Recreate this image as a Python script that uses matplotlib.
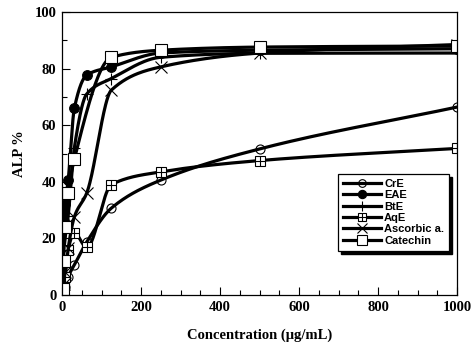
import matplotlib
matplotlib.use("Agg")
import matplotlib.pyplot as plt
import numpy as np
from matplotlib.legend_handler import HandlerTuple
from matplotlib.patches import Rectangle
from matplotlib.ticker import MultipleLocator

# concentrations (ug/mL) and ALP % for each extract
conc = [1.95, 3.9, 7.8, 15.6, 31.25, 62.5, 125, 250, 500, 1000]
cre = [0, 1, 3, 6.5, 10.6, 18.7, 30.7, 40.6, 51.6, 66.4]
eae = [16, 26, 32, 40.6, 66, 77.7, 80.6, 85.5, 86.5, 87]
bte = [7, 14, 20, 28, 52, 71, 76.5, 84, 85.4, 85.5]
aqe = [0.7, 4, 6.5, 16, 22, 16.8, 39, 43.5, 47.5, 51.8]
asc = [1, 4, 8, 16.5, 27.6, 36, 72.4, 80.6, 85.5, 88.5]
cat = [2, 12, 24, 36, 48, np.nan, 84, 86.5, 87.6, 88]

labels = ["CrE", "EAE", "BtE", "AqE", "Ascorbic a.", "Catechin"]


def smooth(x, y, n=40):
    """Monotone cubic (PCHIP) curve through the points, for the smoothed lines."""
    x = np.asarray(x, float)
    y = np.asarray(y, float)
    ok = ~np.isnan(y)
    x, y = x[ok], y[ok]
    h = np.diff(x)
    d = np.diff(y) / h
    m = np.zeros_like(y)
    for k in range(1, len(x) - 1):
        if d[k - 1] * d[k] > 0:
            w1 = 2 * h[k] + h[k - 1]
            w2 = h[k] + 2 * h[k - 1]
            m[k] = (w1 + w2) / (w1 / d[k - 1] + w2 / d[k])
    m[0] = d[0]
    m[-1] = d[-1]
    xs, ys = [], []
    t = np.linspace(0, 1, n)
    for k in range(len(x) - 1):
        h00 = 2 * t ** 3 - 3 * t ** 2 + 1
        h10 = t ** 3 - 2 * t ** 2 + t
        h01 = -2 * t ** 3 + 3 * t ** 2
        h11 = t ** 3 - t ** 2
        xs.extend(x[k] + t * h[k])
        ys.extend(h00 * y[k] + h10 * h[k] * m[k] + h01 * y[k + 1] + h11 * h[k] * m[k + 1])
    return xs, ys


fig = plt.figure(figsize=(4.72, 3.54), dpi=100)
ax = fig.add_axes([62 / 472, 1 - 295 / 354, 395 / 472, 283 / 354])

lw = 2.3
series = [
    (cre, dict(marker="o", ms=6.5, mfc="none", mew=0.8)),
    (eae, dict(marker="o", ms=7, mfc="black", mew=0.8)),
    (bte, dict(marker="+", ms=9, mew=0.8)),
    (aqe, dict(marker="s", ms=7, mfc="white", mew=0.8)),
    (asc, dict(marker="x", ms=8, mew=0.8)),
    (cat, dict(marker="s", ms=8.5, mfc="white", mew=0.8)),
]

handles = []
for (vals, style), lab in zip(series, labels):
    sx, sy = smooth(conc, vals)
    ax.plot(sx, sy, color="black", lw=lw, solid_capstyle="round")
    ax.plot(conc, vals, ls="none", color="black", mec="black", **style)
    h = ax.plot([], [], color="black", lw=lw, mec="black", **style)[0]
    if lab == "AqE":
        ax.plot(conc, vals, ls="none", marker="+", ms=7, mew=0.8, color="black")
        plus = ax.plot([], [], ls="none", marker="+", ms=7, mew=0.8, color="black")[0]
        h = (h, plus)
    handles.append(h)

ax.set_xlim(0, 1000)
ax.set_ylim(0, 100)
ax.xaxis.set_major_locator(MultipleLocator(200))
ax.xaxis.set_minor_locator(MultipleLocator(50))
ax.yaxis.set_major_locator(MultipleLocator(20))
ax.yaxis.set_minor_locator(MultipleLocator(10))
ax.tick_params(which="both", direction="in", top=False, right=False, width=0.8)
ax.tick_params(which="major", length=6, pad=4)
ax.tick_params(which="minor", length=3.5)
for s in ax.spines.values():
    s.set_linewidth(0.9)

for t in ax.get_xticklabels() + ax.get_yticklabels():
    t.set_fontfamily("Liberation Serif")
    t.set_fontweight("bold")
    t.set_fontsize(10.5)

label_font = dict(family="Liberation Serif", weight="bold", size=10.5)
ax.set_xlabel("Concentration (\u03bcg/mL)", fontdict=label_font, labelpad=11)
ax.set_ylabel("ALP %", fontdict=label_font, labelpad=6)

leg = ax.legend(handles, labels, loc="upper left", bbox_to_anchor=(0.699, 0.428),
                borderaxespad=0, fancybox=False, edgecolor="black", framealpha=1,
                prop=dict(family="Liberation Sans", weight="bold", size=8),
                markerscale=0.85, handlelength=3.4, handleheight=0.6,
                handletextpad=0.3, labelspacing=0.12, borderpad=0.45,
                handler_map={tuple: HandlerTuple(ndivide=1, pad=0)})
leg.get_frame().set_linewidth(0.9)
leg.set_zorder(6)

# black drop shadow, a few pixels down and right of the legend box
fig.canvas.draw()
bb = leg.get_window_extent().transformed(fig.transFigure.inverted())
ax.add_patch(Rectangle((bb.x0 + 3 / 472, bb.y0 - 3 / 354), bb.width, bb.height,
                       transform=fig.transFigure, color="black", zorder=5, clip_on=False))

fig.savefig("out.png", dpi=100)
